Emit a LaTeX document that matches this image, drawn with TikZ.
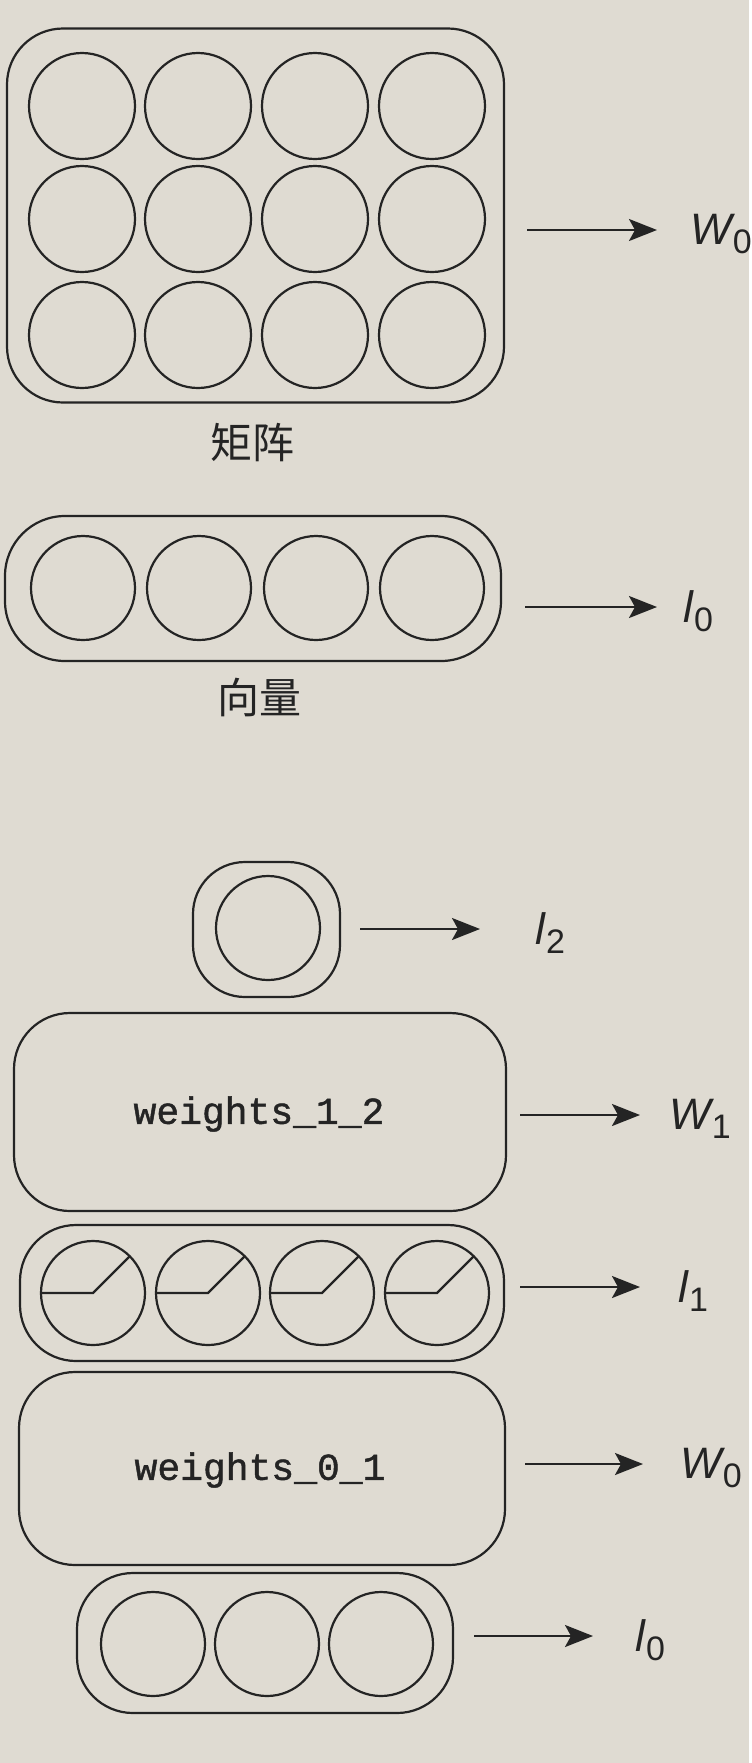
\documentclass[tikz,border=0pt]{standalone}
\usepackage{fontspec}
\setmainfont{Liberation Sans}
\setmonofont{Liberation Mono}
\newfontfamily\cjkfont{Noto Sans CJK SC}
\newfontfamily\wfont[FakeBold=1.2]{Liberation Mono}
\usetikzlibrary{arrows.meta}
\definecolor{paper}{RGB}{223,219,210}
\definecolor{ink}{RGB}{36,36,36}
\newcommand{\nnlab}[2]{\fontsize{22}{22}\selectfont\itshape #1\kern0.5pt\raisebox{-4.5pt}{\fontsize{17}{17}\selectfont\upshape #2}}
\begin{document}
\begin{tikzpicture}[x=0.5pt, y=-0.5pt]
	\tikzset{nnunit/.style={circle, draw=ink, line width=1.1pt,
				minimum size=52pt, inner sep=0pt, outer sep=0pt}}
	\tikzset{nnbox/.style={draw=ink, line width=1.1pt, rounded corners=28pt,
				inner sep=0pt, outer sep=0pt}}
	\tikzset{nnline/.style={draw=ink, line width=1.1pt}}
	\tikzset{nnarrow/.style={draw=ink, line width=1.1pt,
				-{Stealth[length=14pt, width=11pt, inset=3pt]}}}
	\tikzset{nnlabel/.style={anchor=base west, inner sep=0pt, text=ink}}
	\tikzset{nnname/.style={inner sep=0pt, text=ink,
				font=\cjkfont\fontsize{21}{21}\selectfont}}
	\tikzset{nnweights/.style={inner sep=0pt, text=ink,
				font=\wfont\fontsize{19}{19}\selectfont}}

		\fill[paper] (0,0) rectangle (749,1763);

		\node[nnbox, minimum width=248.5pt,
			minimum height=187pt] (mat) at (255.5,215.5) {};
		\foreach \r/\y in {1/106,2/219,3/335}
			\foreach \c/\x in {1/82,2/198,3/315,4/432}
				\node[nnunit, minimum size=53pt] (m\r\c) at (\x,\y) {};
		\node[nnname] (matname) at (252,443) {矩阵};
		\coordinate (mats) at (527,230);
		\node[nnlabel] (matlab) at (690,244) {\nnlab{W}{0}};
		\coordinate (mate) at (657,230);
		\draw[nnarrow] (mats) -- (mate);

		\node[nnbox, rounded corners=30pt, minimum width=248pt,
			minimum height=72.5pt] (vec) at (253,588.5) {};
		\foreach \c/\x in {1/83,2/199,3/316,4/432}
			\node[nnunit] (v\c) at (\x,588) {};
		\node[nnname] (vecname) at (259,697) {向量};
		\coordinate (vecs) at (525,607);
		\coordinate (vece) at (657,607);
		\node[nnlabel] (veclab) at (683,622) {\nnlab{l}{0}};
		\draw[nnarrow] (vecs) -- (vece);

		\node[nnbox, rounded corners=26pt, minimum width=73.5pt,
			minimum height=67.5pt] (outbox) at (266.5,929.5) {};
		\node[nnunit] (o1) at (268,928) {};
		\coordinate (outs) at (360,929);
		\coordinate (oute) at (480,929);
		\node[nnlabel] (outlab) at (535,944) {\nnlab{l}{2}};
		\draw[nnarrow] (outs) -- (oute);

		\node[nnbox, minimum width=246pt, minimum height=99pt] (wb) at (260,1112) {};
		\node[nnweights] (wbtext) at (259,1114) {weights\_1\_2};
		\coordinate (wbs) at (520,1115);
		\coordinate (wbe) at (640,1115);
		\node[nnlabel] (wblab) at (669,1129) {\nnlab{W}{1}};
		\draw[nnarrow] (wbs) -- (wbe);

		\node[nnbox, minimum width=242pt, minimum height=68pt] (hid) at (262,1293) {};
		\foreach \c/\x in {1/93,2/208,3/322,4/437} {
			\node[nnunit] (h\c) at (\x,1293) {};
			\draw[nnline] (h\c.west) -- (h\c.center) -- (h\c.45);
		}
		\coordinate (hids) at (520,1287);
		\coordinate (hide) at (640,1287);
		\node[nnlabel] (hidlab) at (678,1302) {\nnlab{l}{1}};
		\draw[nnarrow] (hids) -- (hide);

		\node[nnbox, minimum width=243pt, minimum height=96.5pt] (wa) at (262,1468.5) {};
		\node[nnweights] (watext) at (260,1470) {weights\_0\_1};
		\coordinate (was) at (525,1464);
		\coordinate (wae) at (643,1464);
		\node[nnlabel] (walab) at (680,1478) {\nnlab{W}{0}};
		\draw[nnarrow] (was) -- (wae);

		\node[nnbox, minimum width=188pt, minimum height=70pt] (inp) at (265,1643) {};
		\foreach \c/\x in {1/153,2/267,3/381}
			\node[nnunit] (i\c) at (\x,1644) {};
		\coordinate (inps) at (474,1636);
		\coordinate (inpe) at (593,1636);
		\node[nnlabel] (inplab) at (635,1651) {\nnlab{l}{0}};
		\draw[nnarrow] (inps) -- (inpe);
\end{tikzpicture}
\end{document}
